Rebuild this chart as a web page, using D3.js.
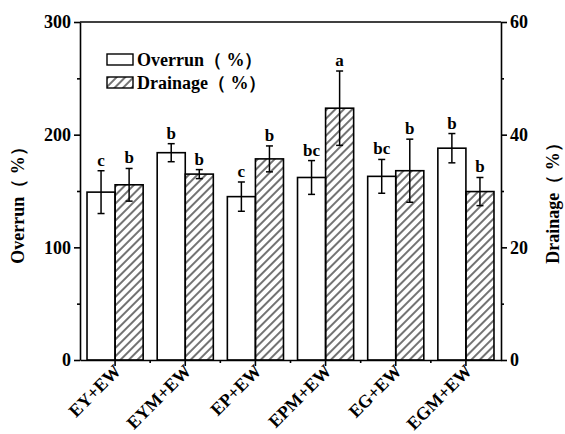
<!DOCTYPE html>
<html>
<head>
<meta charset="utf-8">
<script src="https://cdn.jsdelivr.net/npm/d3@7"></script>
<style>
  body { margin: 0; background: #fff; }
</style>
</head>
<body>
<svg id="chart" width="565" height="434"></svg>
<script>
// data
const categories = ["EY+EW", "EYM+EW", "EP+EW", "EPM+EW", "EG+EW", "EGM+EW"];
const overrun = [149, 184, 145, 162, 163, 188];
const overrunErr = [19, 8, 13, 15, 15, 13];
const overrunSig = ["c", "b", "c", "bc", "bc", "b"];
const drainage = [31.1, 33.0, 35.7, 44.7, 33.6, 29.9];
const drainageErr = [2.9, 0.8, 2.3, 6.6, 5.6, 2.5];
const drainageSig = ["b", "b", "b", "a", "b", "b"];
const leftTicks = [0, 100, 200, 300];
const rightTicks = [0, 20, 40, 60];

const serif = "Liberation Serif";
const svg = d3.select("#chart");
const plotLeft = 80, plotRight = 501, plotTop = 22, plotBottom = 360;

// hatch pattern for drainage bars
svg.append("defs").append("pattern")
  .attr("id", "hatch")
  .attr("patternUnits", "userSpaceOnUse")
  .attr("width", 6).attr("height", 6)
  .attr("patternTransform", "rotate(45)")
  .append("line")
  .attr("x1", 1).attr("y1", 0).attr("x2", 1).attr("y2", 6)
  .attr("stroke", "#000").attr("stroke-width", 1.1);

const x = d3.scaleBand().domain(categories).range([plotLeft, plotRight]).padding(0);
const xSub = d3.scaleBand().domain(["o", "d"]).range([0, x.bandwidth()])
  .paddingInner(0).paddingOuter(0.25);
const yL = d3.scaleLinear().domain([0, 300]).range([plotBottom, plotTop]);
const yR = d3.scaleLinear().domain([0, 60]).range([plotBottom, plotTop]);

// bars
const groups = svg.append("g").selectAll("g")
  .data(categories)
  .join("g")
  .attr("transform", d => `translate(${x(d)},0)`);

groups.append("rect")
  .attr("x", xSub("o"))
  .attr("y", (d, i) => yL(overrun[i]))
  .attr("width", xSub.bandwidth())
  .attr("height", (d, i) => plotBottom - yL(overrun[i]))
  .attr("fill", "#fff").attr("stroke", "#000").attr("stroke-width", 1.6);

groups.append("rect")
  .attr("x", xSub("d"))
  .attr("y", (d, i) => yR(drainage[i]))
  .attr("width", xSub.bandwidth())
  .attr("height", (d, i) => plotBottom - yR(drainage[i]))
  .attr("fill", "url(#hatch)").attr("stroke", "#000").attr("stroke-width", 1.6);

// error bars + letters
function errorBar(g, cx, yTop, yBot, label) {
  g.append("line").attr("x1", cx).attr("x2", cx).attr("y1", yTop).attr("y2", yBot)
    .attr("stroke", "#000").attr("stroke-width", 1.5);
  [yTop, yBot].forEach(yy => {
    g.append("line").attr("x1", cx - 3.5).attr("x2", cx + 3.5).attr("y1", yy).attr("y2", yy)
      .attr("stroke", "#000").attr("stroke-width", 1.5);
  });
  g.append("text").attr("x", cx).attr("y", yTop - 5)
    .attr("text-anchor", "middle")
    .attr("font-family", serif).attr("font-weight", "bold").attr("font-size", 17)
    .text(label);
}

groups.each(function(d, i) {
  const g = d3.select(this);
  const co = xSub("o") + xSub.bandwidth() / 2;
  const cd = xSub("d") + xSub.bandwidth() / 2;
  errorBar(g, co, yL(overrun[i] + overrunErr[i]), yL(overrun[i] - overrunErr[i]), overrunSig[i]);
  errorBar(g, cd, yR(drainage[i] + drainageErr[i]), yR(drainage[i] - drainageErr[i]), drainageSig[i]);
});

// axes
const axisStroke = g => g.selectAll("path, line").attr("stroke", "#000").attr("stroke-width", 1.6);
const axisText = g => g.selectAll("text")
  .attr("font-family", serif).attr("font-weight", "bold").attr("font-size", 18).attr("fill", "#000");

svg.append("g").attr("transform", `translate(${plotLeft},0)`)
  .call(d3.axisLeft(yL).tickValues(leftTicks).tickSizeInner(6).tickSizeOuter(0).tickPadding(3))
  .call(axisStroke).call(axisText);
svg.append("g").attr("transform", `translate(${plotLeft},0)`)
  .call(d3.axisLeft(yL).tickValues([50, 150, 250]).tickSize(3).tickFormat(""))
  .call(axisStroke).select(".domain").remove();

svg.append("g").attr("transform", `translate(${plotRight},0)`)
  .call(d3.axisRight(yR).tickValues(rightTicks).tickSizeInner(6).tickSizeOuter(0).tickPadding(3))
  .call(axisStroke).call(axisText);
svg.append("g").attr("transform", `translate(${plotRight},0)`)
  .call(d3.axisRight(yR).tickValues([10, 30, 50]).tickSize(3).tickFormat(""))
  .call(axisStroke).select(".domain").remove();

// top frame line
svg.append("line").attr("x1", plotLeft).attr("x2", plotRight).attr("y1", plotTop).attr("y2", plotTop)
  .attr("stroke", "#000").attr("stroke-width", 1.6);

// bottom axis: major ticks at centers, minor at boundaries
svg.append("g").attr("transform", `translate(0,${plotBottom})`)
  .call(d3.axisBottom(x).tickSizeInner(6).tickSizeOuter(0).tickFormat(""))
  .call(axisStroke);
svg.append("g").attr("transform", `translate(0,${plotBottom})`)
  .selectAll("line")
  .data(categories.slice(1))
  .join("line")
  .attr("x1", d => x(d)).attr("x2", d => x(d))
  .attr("y1", 0).attr("y2", 3)
  .attr("stroke", "#000").attr("stroke-width", 1.6);

svg.append("g").selectAll("text")
  .data(categories)
  .join("text")
  .attr("transform", d => `translate(${x(d) + x.bandwidth() / 2 + 7},${plotBottom + 12}) rotate(-45)`)
  .attr("text-anchor", "end")
  .attr("font-family", serif).attr("font-weight", "bold").attr("font-size", 18)
  .text(d => d);

// axis titles
svg.append("text")
  .attr("transform", `translate(24,${(plotTop + plotBottom) / 2 + 10}) rotate(-90)`)
  .attr("text-anchor", "middle")
  .attr("font-family", serif).attr("font-weight", "bold").attr("font-size", 18)
  .text("Overrun（ %）");

svg.append("text")
  .attr("transform", `translate(559,${(plotTop + plotBottom) / 2 + 8}) rotate(-90)`)
  .attr("text-anchor", "middle")
  .attr("font-family", serif).attr("font-weight", "bold").attr("font-size", 18)
  .text("Drainage（ %）");

// legend
const legendItems = [["Overrun（ %）", "#fff"], ["Drainage（ %）", "url(#hatch)"]];
const legend = svg.append("g").selectAll("g")
  .data(legendItems)
  .join("g")
  .attr("transform", (d, i) => `translate(107,${54 + i * 23})`);
legend.append("rect")
  .attr("width", 26).attr("height", 11)
  .attr("fill", d => d[1]).attr("stroke", "#000").attr("stroke-width", 1.4);
legend.append("text")
  .attr("x", 30).attr("y", 12)
  .attr("font-family", serif).attr("font-weight", "bold").attr("font-size", 18)
  .text(d => d[0]);
</script>
</body>
</html>
